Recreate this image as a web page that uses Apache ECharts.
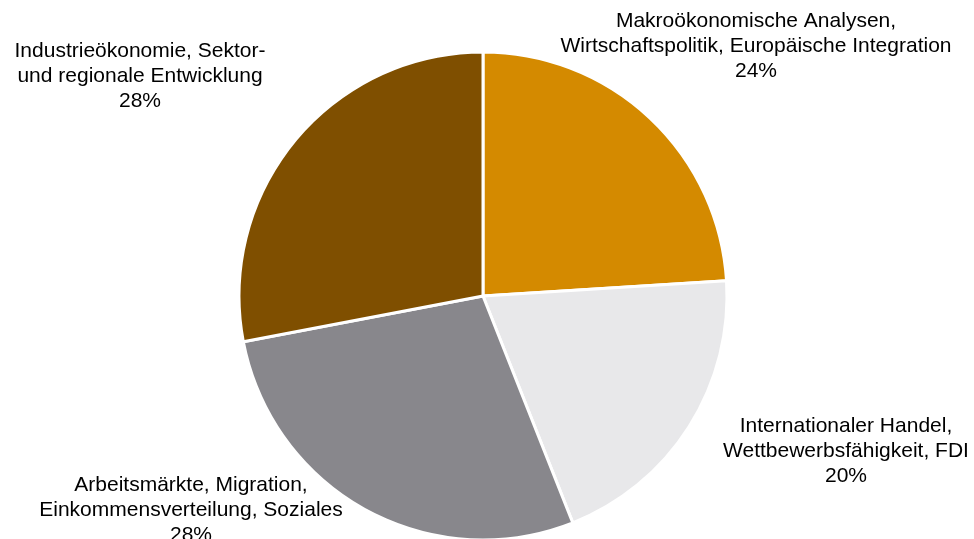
<!DOCTYPE html>
<html>
<head>
<meta charset="utf-8">
<script src="https://cdn.jsdelivr.net/npm/echarts@6/dist/echarts.min.js"></script>
<style>
  html, body { margin: 0; padding: 0; background: #fff; }
  #chart { width: 974px; height: 539px; }
</style>
</head>
<body>
<div id="chart"></div>
<script>
// Research areas and their shares (percent)
const categories = [
  'Makroökonomische Analysen,\nWirtschaftspolitik, Europäische Integration',
  'Internationaler Handel,\nWettbewerbsfähigkeit, FDI',
  'Arbeitsmärkte, Migration,\nEinkommensverteilung, Soziales',
  'Industrieökonomie, Sektor-\nund regionale Entwicklung'
];
const shares = [24, 20, 28, 28];
const sliceColors = ['#D48A00', '#E8E8EA', '#88878C', '#7F4F00'];

// Label anchor points (centre of each text block)
const labelAnchors = [[756, 46], [846, 451], [191, 510], [140, 76]];

const chart = echarts.init(document.getElementById('chart'), null, { renderer: 'canvas' });
chart.setOption({
  animation: false,
  series: [{
    type: 'pie',
    center: [483, 296],
    radius: [0, 244],
    startAngle: 90,
    clockwise: true,
    data: categories.map((name, i) => ({
      name: name,
      value: shares[i],
      itemStyle: { color: sliceColors[i] }
    })),
    itemStyle: { borderColor: '#fff', borderWidth: 3 },
    label: {
      show: true,
      position: 'outside',
      formatter: '{b}\n{d}%',
      fontFamily: "'Liberation Sans', Arial, sans-serif",
      fontSize: 21,
      lineHeight: 25,
      color: '#000',
      align: 'center',
      overflow: 'none'
    },
    labelLine: { show: false },
    labelLayout: function (params) {
      const p = labelAnchors[params.dataIndex];
      return { x: p[0], y: p[1], align: 'center', verticalAlign: 'middle' };
    },
    emphasis: { disabled: true }
  }]
});
</script>
</body>
</html>
